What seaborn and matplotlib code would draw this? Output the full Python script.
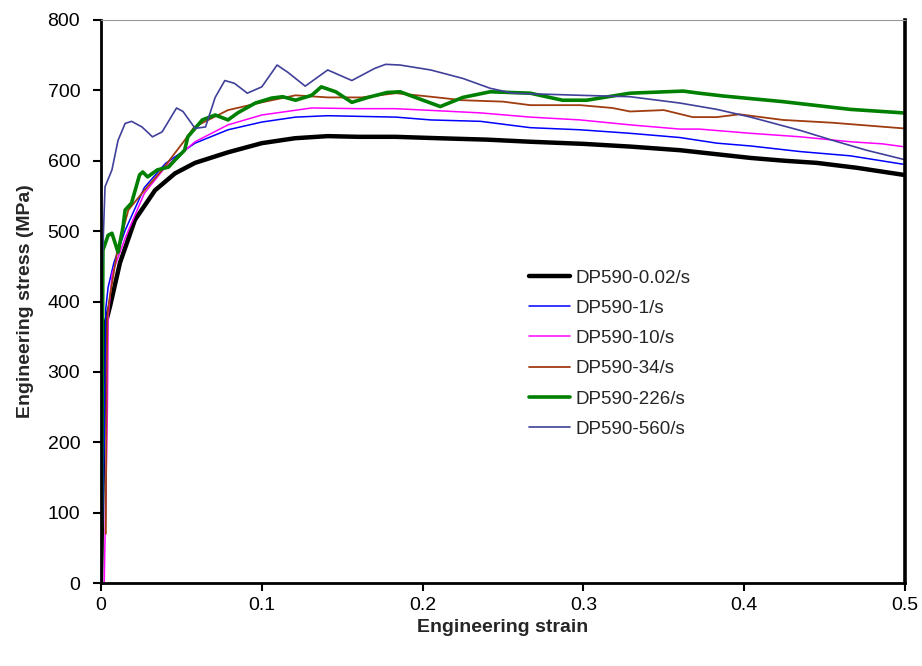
import numpy as np
import pandas as pd
import matplotlib
matplotlib.use('Agg')
import matplotlib.pyplot as plt
import matplotlib.ticker
import seaborn as sns

# curves: engineering strain, engineering stress (MPa)
rates = ['DP590-0.02/s', 'DP590-1/s', 'DP590-10/s', 'DP590-34/s', 'DP590-226/s', 'DP590-560/s']

strain_002 = [0.0, 0.001, 0.002, 0.003, 0.0056, 0.0118, 0.0211, 0.0336, 0.046, 0.0585, 0.079, 0.100,
              0.1206, 0.141, 0.160, 0.183, 0.21, 0.24, 0.267, 0.30, 0.33, 0.36, 0.38, 0.404, 0.425,
              0.445, 0.47, 0.499]
stress_002 = [0, 150, 300, 370, 393, 455, 516, 558, 582, 597, 612, 625,
              632, 635, 634, 634, 632, 630, 627, 624, 620, 615, 610, 604, 600,
              597, 590, 580]

strain_1 = [0.0, 0.002, 0.003, 0.0044, 0.008, 0.015, 0.027, 0.040, 0.0585, 0.079, 0.100, 0.121,
            0.141, 0.162, 0.1835, 0.205, 0.236, 0.267, 0.298, 0.329, 0.36, 0.383, 0.404, 0.435,
            0.466, 0.499]
stress_1 = [0, 200, 390, 420, 455, 501, 562, 596, 625, 644, 655, 662,
            664, 663, 662, 658, 656, 647, 644, 639, 633, 625, 621, 613,
            607, 595]

strain_10 = [0.002, 0.004, 0.0045, 0.007, 0.015, 0.027, 0.040, 0.0585, 0.079, 0.100, 0.131, 0.16,
             0.183, 0.21, 0.236, 0.267, 0.298, 0.329, 0.36, 0.372, 0.404, 0.435, 0.466, 0.486, 0.499]
stress_10 = [0, 250, 380, 440, 490, 554, 591, 627, 651, 665, 675, 674,
             674, 671, 668, 662, 658, 651, 645, 645, 639, 634, 627, 624, 620]

strain_34 = [0.003, 0.0035, 0.004, 0.005, 0.010, 0.017, 0.027, 0.038, 0.052, 0.058, 0.079, 0.100,
             0.121, 0.141, 0.162, 0.1835, 0.205, 0.225, 0.25, 0.267, 0.298, 0.318, 0.329, 0.35,
             0.368, 0.383, 0.397, 0.424, 0.455, 0.499]
stress_34 = [70, 300, 380, 400, 470, 530, 558, 587, 629, 648, 672, 683,
             693, 690, 690, 696, 691, 686, 684, 679, 679, 675, 670, 672,
             662, 662, 666, 658, 654, 646]

strain_226 = [0.0, 0.0008, 0.0012, 0.0044, 0.0068, 0.0106, 0.0137, 0.015, 0.019, 0.024, 0.026, 0.029,
              0.035, 0.042, 0.046, 0.052, 0.054, 0.063, 0.071, 0.079, 0.085, 0.096, 0.106, 0.113,
              0.121, 0.131, 0.137, 0.146, 0.156, 0.166, 0.178, 0.186, 0.211, 0.225, 0.242, 0.267,
              0.287, 0.302, 0.329, 0.362, 0.372, 0.387, 0.424, 0.466, 0.499]
stress_226 = [0, 300, 473, 494, 497, 470, 506, 530, 540, 580, 584, 577,
              587, 591, 601, 615, 634, 658, 665, 658, 668, 682, 689, 691,
              686, 693, 705, 698, 683, 690, 697, 698, 677, 690, 698, 696,
              686, 686, 696, 699, 696, 692, 684, 673, 668]

strain_560 = [0.0, 0.0008, 0.0025, 0.0068, 0.0106, 0.015, 0.019, 0.0255, 0.032, 0.038, 0.047, 0.051,
              0.0585, 0.065, 0.071, 0.077, 0.083, 0.091, 0.100, 0.1095, 0.116, 0.127, 0.141, 0.156,
              0.170, 0.177, 0.186, 0.205, 0.225, 0.242, 0.256, 0.298, 0.329, 0.36, 0.383, 0.404,
              0.435, 0.455, 0.476, 0.499]
stress_560 = [0, 450, 563, 587, 629, 653, 656, 648, 634, 641, 675, 670,
              646, 648, 690, 714, 710, 696, 705, 736, 726, 706, 729, 714,
              731, 737, 736, 729, 717, 703, 696, 693, 691, 682, 673, 662,
              643, 629, 615, 602]

strains = [strain_002, strain_1, strain_10, strain_34, strain_226, strain_560]
stresses = [stress_002, stress_1, stress_10, stress_34, stress_226, stress_560]

df = pd.concat([pd.DataFrame({'strain': s, 'stress': t, 'rate': r})
                for s, t, r in zip(strains, stresses, rates)], ignore_index=True)

colors = {'DP590-0.02/s': '#000000', 'DP590-1/s': '#0000ff', 'DP590-10/s': '#ff00ff',
          'DP590-34/s': '#a03c10', 'DP590-226/s': '#008000', 'DP590-560/s': '#40409a'}
widths = {'DP590-0.02/s': 3.2, 'DP590-1/s': 1.1, 'DP590-10/s': 1.1,
          'DP590-34/s': 1.3, 'DP590-226/s': 2.6, 'DP590-560/s': 1.2}

sns.set_style('ticks')
plt.rcParams['font.family'] = ['Liberation Sans', 'DejaVu Sans']

fig = plt.figure(figsize=(9.22, 6.66), dpi=100)
ax = fig.add_axes([101 / 922, 83 / 666, 804 / 922, 563 / 666])

sns.lineplot(data=df, x='strain', y='stress', hue='rate', size='rate',
             palette=colors, sizes=widths, hue_order=rates, size_order=rates,
             sort=False, estimator=None, legend=False, ax=ax)

ax.set_xlim(0, 0.5)
ax.set_ylim(0, 800)
ax.xaxis.set_major_locator(matplotlib.ticker.MultipleLocator(0.1))
ax.yaxis.set_major_locator(matplotlib.ticker.MultipleLocator(100))
ax.xaxis.set_major_formatter(matplotlib.ticker.FuncFormatter(lambda v, p: '%g' % round(v, 2)))

ax.set_xlabel('Engineering strain', fontsize=14, fontweight='bold', labelpad=4)
ax.set_ylabel('Engineering stress (MPa)', fontsize=14, fontweight='bold', labelpad=10)
ax.tick_params(axis='both', direction='out', length=6, width=1.5, labelsize=14, colors='black')
ax.tick_params(axis='x', pad=4)
ax.tick_params(axis='y', pad=9)

for side in ['left', 'bottom', 'right']:
    ax.spines[side].set_color('black')
    ax.spines[side].set_linewidth(2)
ax.spines['right'].set_linewidth(2.6)
ax.spines['top'].set_color('#999999')
ax.spines['top'].set_linewidth(0.8)

handles = ax.get_lines()[:len(rates)]
ax.legend(handles, rates, loc='upper left', bbox_to_anchor=(0.532, 0.557), frameon=False,
          fontsize=13.5, handlelength=2.2, handletextpad=0.3, labelspacing=0.7,
          borderpad=0, borderaxespad=0)

fig.savefig('out.png', dpi=100)
